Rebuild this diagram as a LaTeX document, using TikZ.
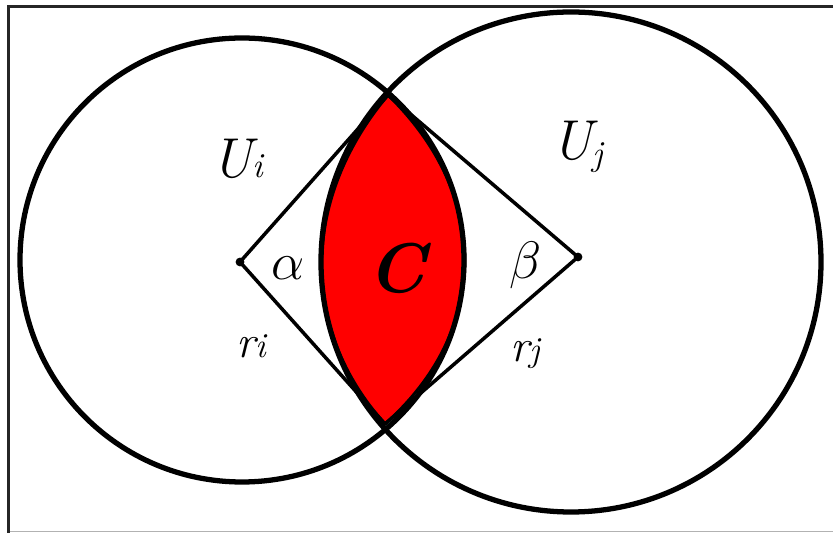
\RequirePackage{fix-cm}
\documentclass[tikz,border=0pt]{standalone}
\usepackage{fontspec}
\usepackage{tikz}
\usetikzlibrary{positioning}

\newcommand{\smallidx}[1]{{\fontsize{20}{24}\selectfont #1}}

\tikzset{
  ring/.style={draw, line width=3pt},
  spoke/.style={draw, line width=2pt},
  lens/.style={fill=red, draw=black, line width=1.7pt},
  centre/.style={circle, fill=black, inner sep=0pt, minimum size=5pt},
  lbl/.style={font=\fontsize{32}{38}\selectfont\itshape, inner sep=0pt, anchor=base},
  greek/.style={font=\fontsize{30}{34}\selectfont, inner sep=0pt, anchor=base}
}

\begin{document}
\begin{tikzpicture}[x=0.02cm, y=-0.02cm]
        \useasboundingbox (0,0) rectangle (833,533);
        \fill[white] (0,0) rectangle (833,533);

        % Frame
        \draw[black!85, line width=2pt] (8.5,533) -- (8.5,6.5) -- (833,6.5);
        \draw[black!30, line width=0.6pt] (10,531.5) -- (833,531.5);

        % Points
        \coordinate (oi) at (242,260);
        \coordinate (oj) at (571,262);
        \coordinate (top) at (388,95);
        \coordinate (bot) at (385,424);

        % Overlap C
        \path[lens] (top) .. controls (300,200) and (300,330) .. (bot)
                          .. controls (491,330) and (491,195) .. (top);

        % Sets
        \draw[ring] (oi) circle (222);
        \draw[ring] (oj) circle (250);

        % Radii
        \node[centre] (ci) at (240,262) {};
        \node[centre] (cj) at (578,257) {};
        \draw[spoke] (top) -- (ci.center) -- (bot);
        \draw[spoke] (top) -- (cj.center) -- (bot);

        % Labels
        \node[lbl] (Ui) at (237,178) {U\smallidx{i}};
        \node[lbl] (Uj) at (577,160) {U\raisebox{-3pt}{\smallidx{j}}};
        \node[greek] (alpha) at (288,280) {$\alpha$};
        \node[greek] (beta) at (526,279) {$\beta$};
        \node[lbl, font=\fontsize{40}{46}\selectfont\bfseries\itshape] (C) at (397,293) {C};
        \node[lbl, font=\fontsize{26}{30}\selectfont\itshape] (ri) at (251,358) {r\smallidx{i}};
        \node[lbl, font=\fontsize{26}{30}\selectfont\itshape] (rj) at (525,362) {r\smallidx{j}};
      \end{tikzpicture}
\end{document}
